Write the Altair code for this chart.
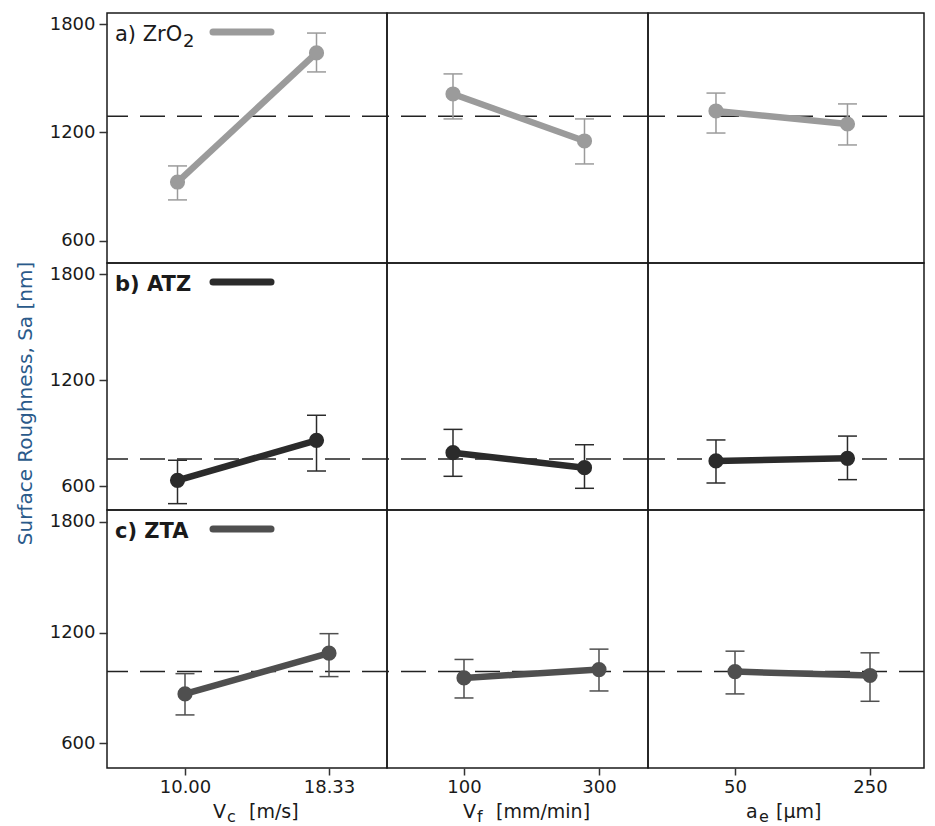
import altair as alt
import pandas as pd

# ---------------- data ----------------
materials = ["ZrO2", "ATZ", "ZTA"]
panel_labels = ["a) ZrO", "b) ATZ", "c) ZTA"]
label_subscripts = ["2", "", ""]

vc_levels = [10.00, 18.33]
vf_levels = [100, 300]
ae_levels = [50, 250]
factor_levels = [vc_levels, vf_levels, ae_levels]
tick_formats = [".2f", "d", "d"]
factor_title_main = ["V", "V", "a"]
factor_title_sub = ["c", "f", "e"]
factor_title_unit = ["[m/s]", "[mm/min]", "[μm]"]

# order: Vc low, Vc high, Vf low, Vf high, ae low, ae high
zro2_mean = [926, 1640, 1413, 1153, 1319, 1247]
zro2_lo = [827, 1535, 1275, 1026, 1197, 1131]
zro2_hi = [1015, 1750, 1524, 1275, 1418, 1358]

atz_mean = [632, 859, 789, 704, 742, 757]
atz_lo = [500, 685, 655, 587, 617, 636]
atz_hi = [746, 1001, 921, 834, 861, 883]

zta_mean = [867, 1088, 954, 999, 988, 967]
zta_lo = [753, 961, 845, 883, 867, 827]
zta_hi = [977, 1194, 1054, 1110, 1099, 1090]

grand_means = [1290, 753, 988]
y_ticks = [600, 1200, 1800]
y_title = "Surface Roughness, Sa [nm]"

all_mean = [zro2_mean, atz_mean, zta_mean]
all_lo = [zro2_lo, atz_lo, zta_lo]
all_hi = [zro2_hi, atz_hi, zta_hi]

# ---------------- styling / layout ----------------
colors = ["#9b9b9b", "#2b2b2b", "#4f4f4f"]
col_widths = [280, 261, 276]
row_heights = [250, 247, 258]
y_domains = [[478, 1861], [464, 1864], [465, 1865]]
x_domains_top = [[5.775, 22.554], [-0.38, 396.6], [-53.4, 366.4]]
x_domains_bottom = [[5.488, 21.685], [-14.07, 372.6], [-78.9, 330.0]]
FONT = "DejaVu Sans"
TXT = "#1a1a1a"

title_pos = [  # (x main, x sub, x unit)
    (106, 120, 142),
    (76, 90, 109),
    (98, 111, 128),
]


def panel(r, c):
    w, h = col_widths[c], row_heights[r]
    xs = factor_levels[c]
    df = pd.DataFrame({
        "x": xs,
        "mean": all_mean[r][2 * c:2 * c + 2],
        "lo": all_lo[r][2 * c:2 * c + 2],
        "hi": all_hi[r][2 * c:2 * c + 2],
    })
    gm = pd.DataFrame({"g": [grand_means[r]]})
    xdom = x_domains_bottom[c] if r == 2 else x_domains_top[c]
    xscale = alt.Scale(domain=xdom, nice=False, zero=False)
    yscale = alt.Scale(domain=y_domains[r], nice=False, zero=False)

    if r == 2:
        xaxis = alt.Axis(values=xs, format=tick_formats[c], title=None, grid=False,
                         domain=False, tickSize=7, tickWidth=1.5, tickColor="#333",
                         labelFontSize=18, labelFontWeight="normal", labelColor=TXT,
                         labelFont=FONT, labelPadding=3)
    else:
        xaxis = None
    if c == 0:
        yaxis = alt.Axis(values=y_ticks, format="d",
                         title=(y_title if r == 1 else None), grid=False,
                         domain=False, tickSize=8, tickWidth=1.5, tickColor="#333",
                         labelFontSize=18, labelFontWeight="normal", labelColor=TXT,
                         labelFont=FONT, labelPadding=4,
                         titleFont=FONT, titleFontSize=20, titleFontWeight="normal",
                         titleColor="#2a5a8a", titlePadding=14, titleY=140)
    else:
        yaxis = None

    X = alt.X("x:Q", scale=xscale, axis=xaxis)
    col = colors[r]
    base = alt.Chart(df)

    mean_rule = alt.Chart(gm).mark_rule(color="#222222", strokeWidth=1.5,
                                        strokeDash=[25, 12]).encode(
        y=alt.Y("g:Q", scale=yscale, axis=yaxis))
    err = base.mark_rule(color=col, strokeWidth=1.5).encode(
        x=X, y=alt.Y("lo:Q", scale=yscale, axis=yaxis), y2="hi:Q")
    cap_lo = base.mark_tick(orient="horizontal", size=19, thickness=1.5, color=col,
                            opacity=1).encode(
        x=X, y=alt.Y("lo:Q", scale=yscale, axis=yaxis))
    cap_hi = base.mark_tick(orient="horizontal", size=19, thickness=1.5, color=col,
                            opacity=1).encode(
        x=X, y=alt.Y("hi:Q", scale=yscale, axis=yaxis))
    line = base.mark_line(color=col, strokeWidth=6.5).encode(
        x=X, y=alt.Y("mean:Q", scale=yscale, axis=yaxis))
    pts = base.mark_circle(color=col, size=230, opacity=1).encode(
        x=X, y=alt.Y("mean:Q", scale=yscale, axis=yaxis))

    layers = [mean_rule, err, cap_lo, cap_hi, line, pts]

    if c == 0:
        one = pd.DataFrame({"t": [panel_labels[r]]})
        layers.append(alt.Chart(one).mark_text(
            align="left", baseline="alphabetic", font=FONT, fontSize=21,
            fontWeight=("normal" if r == 0 else "bold"), color=TXT).encode(
            x=alt.value(8), y=alt.value(28), text="t:N"))
        if label_subscripts[r]:
            sub = pd.DataFrame({"t": [label_subscripts[r]]})
            layers.append(alt.Chart(sub).mark_text(
                align="left", baseline="alphabetic", font=FONT, fontSize=18,
                color=TXT).encode(x=alt.value(76), y=alt.value(34), text="t:N"))
        layers.append(alt.Chart(one).mark_rule(
            color=col, strokeWidth=7, strokeCap="round").encode(
            x=alt.value(106), x2=alt.value(164), y=alt.value(19)))

    if r == 2:
        xm, xsb, xu = title_pos[c]
        pieces = [
            (factor_title_main[c], xm, 50, 19),
            (factor_title_sub[c], xsb, 54, 16),
            (factor_title_unit[c], xu, 50, 19),
        ]
        for txt, px, py, fs in pieces:
            d = pd.DataFrame({"t": [txt]})
            layers.append(alt.Chart(d).mark_text(
                align="left", baseline="alphabetic", font=FONT, fontSize=fs,
                color=TXT).encode(
                x=alt.value(px), y=alt.value(h + py), text="t:N"))

    return alt.layer(*layers).properties(width=w, height=h)


panels = [panel(r, c) for r in range(3) for c in range(3)]

chart = alt.concat(*panels, columns=3, spacing=0, bounds="flush").properties(
    padding={"left": 6, "top": 4, "right": 0, "bottom": 0},
).configure(font=FONT).configure_view(
    stroke="#1a1a1a", strokeWidth=1.5
)

chart.save("out.html", embed_options={"renderer": "svg", "actions": False})
